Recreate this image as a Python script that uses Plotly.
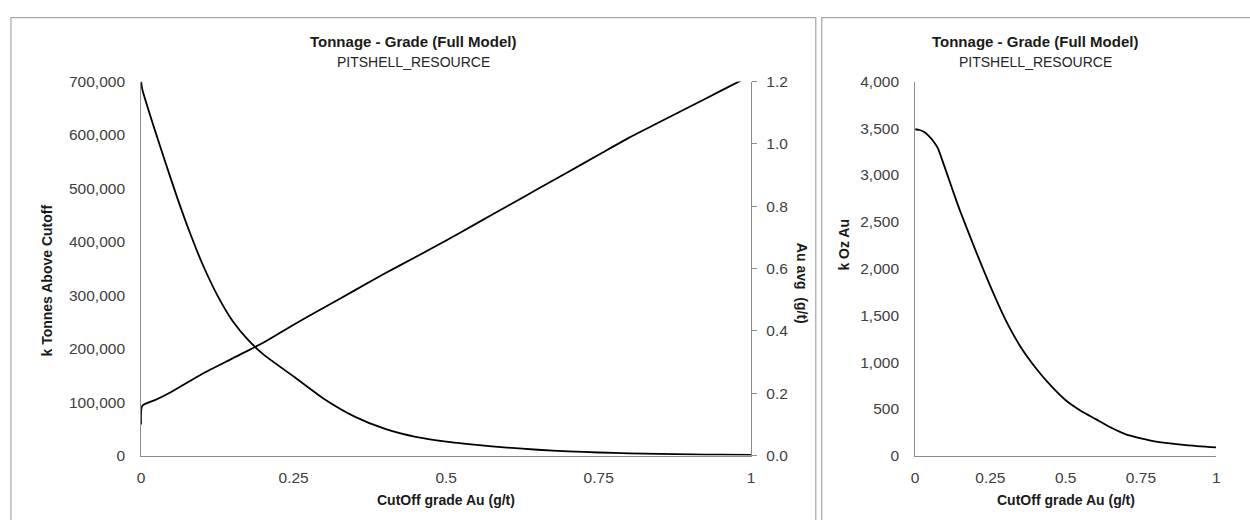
import plotly.graph_objects as go

# ---------------- data ----------------
cutoff_tonnes = [0.0, 0.002, 0.02, 0.04, 0.06, 0.08, 0.1, 0.125, 0.15, 0.175, 0.2,
                 0.25, 0.3, 0.35, 0.4, 0.45, 0.5, 0.55, 0.6, 0.65, 0.7, 0.75,
                 0.8, 0.85, 0.9, 0.95, 1.0]
k_tonnes = [700000, 685000, 618000, 548000, 480000, 417000, 360000, 300000, 252000,
            217000, 190000, 148000, 106000, 73000, 50000, 35000, 26000, 20000,
            15000, 11000, 8000, 5800, 4200, 3100, 2300, 1700, 1200]

cutoff_grade = [0.0, 0.002, 0.025, 0.05, 0.1, 0.15, 0.2, 0.25, 0.3, 0.35, 0.4,
                0.45, 0.5, 0.55, 0.6, 0.65, 0.7, 0.75, 0.8, 0.85, 0.9, 0.95, 1.0]
au_avg = [0.10, 0.16, 0.18, 0.205, 0.262, 0.312, 0.362, 0.42, 0.475, 0.53, 0.585,
          0.637, 0.69, 0.745, 0.80, 0.855, 0.91, 0.965, 1.02, 1.07, 1.12, 1.17, 1.22]

cutoff_oz = [0.0, 0.015, 0.03, 0.045, 0.06, 0.075, 0.09, 0.11, 0.131, 0.15, 0.2, 0.25,
             0.3, 0.35, 0.406, 0.45, 0.5, 0.55, 0.6, 0.65, 0.7, 0.75, 0.8, 0.9, 1.0]
k_oz = [3490, 3482, 3460, 3420, 3365, 3290, 3160, 2975, 2780, 2610, 2200, 1810,
        1455, 1165, 915, 750, 592, 480, 390, 300, 228, 185, 150, 112, 87]

x_ticks = [0, 0.25, 0.5, 0.75, 1]
x_ticktext = ["0", "0.25", "0.5", "0.75", "1"]

title_text = "Tonnage - Grade (Full Model)"
subtitle_text = "PITSHELL_RESOURCE"

# ---------------- layout helpers ----------------
W, H = 1250, 520


def px(x):
    return x / W


def py(y):
    return 1 - y / H


AXIS_COL = "#8c8c8c"
TICK_FONT = dict(family="Liberation Sans, Arial, sans-serif", size=15.5, color="#404040")
BOLD = "Liberation Sans, Arial, sans-serif"
LINE = dict(color="black", width=1.8, shape="spline", smoothing=0.6)

fig = go.Figure()
fig.add_trace(go.Scatter(x=cutoff_tonnes, y=k_tonnes, mode="lines", line=LINE,
                         xaxis="x", yaxis="y", showlegend=False))
fig.add_trace(go.Scatter(x=cutoff_grade, y=au_avg, mode="lines", line=LINE,
                         xaxis="x", yaxis="y2", showlegend=False))
fig.add_trace(go.Scatter(x=cutoff_oz, y=k_oz, mode="lines", line=LINE,
                         xaxis="x2", yaxis="y3", showlegend=False))

ydom = [py(461.7), py(75)]
common_x = dict(range=[0, 1], tickvals=x_ticks, ticktext=x_ticktext, showline=True,
                linecolor=AXIS_COL, linewidth=1, showgrid=False, zeroline=False,
                ticks="", tickfont=TICK_FONT, ticklabelstandoff=8, fixedrange=True)
common_y = dict(showline=True, linecolor=AXIS_COL, linewidth=1, showgrid=False,
                zeroline=False, ticks="", tickfont=TICK_FONT, ticklabelstandoff=12,
                fixedrange=True)

fig.update_layout(
    width=W, height=H, autosize=False,
    margin=dict(l=0, r=0, t=0, b=0),
    paper_bgcolor="white", plot_bgcolor="white",
    xaxis=dict(domain=[px(138), px(752)], anchor="y", **common_x),
    yaxis=dict(domain=ydom, anchor="x", range=[0, 700000], dtick=100000,
               tickformat=",", **common_y),
    yaxis2=dict(overlaying="y", side="right", anchor="x", range=[0, 1.2], dtick=0.2,
                tickformat=".1f", showline=True, linecolor=AXIS_COL, linewidth=1,
                showgrid=False, zeroline=False, ticks="outside", ticklen=5,
                tickcolor=AXIS_COL, tickfont=TICK_FONT, ticklabelstandoff=6,
                fixedrange=True),
    xaxis2=dict(domain=[px(917), px(1220)], anchor="y3", **common_x),
    yaxis3=dict(domain=ydom, anchor="x2", range=[0, 4000], dtick=500,
                tickformat=",", **common_y),
)

shapes = [
    dict(type="rect", xref="paper", yref="paper", x0=px(7), x1=px(817),
         y0=py(560), y1=py(9), line=dict(color="#a6a6a6", width=1.2)),
    dict(type="rect", xref="paper", yref="paper", x0=px(823), x1=px(1290),
         y0=py(560), y1=py(9), line=dict(color="#a6a6a6", width=1.2)),
]
fig.update_layout(shapes=shapes)

ann = []
for cx in (412, 1038):
    ann.append(dict(x=px(cx), y=py(34), xref="paper", yref="paper", text=title_text,
                    showarrow=False, xanchor="center", yanchor="middle",
                    font=dict(family=BOLD, size=15, color="#1a1a1a", weight="bold")))
    ann.append(dict(x=px(cx), y=py(55), xref="paper", yref="paper", text=subtitle_text,
                    showarrow=False, xanchor="center", yanchor="middle",
                    font=dict(family=BOLD, size=14, color="#262626")))
for cx in (445, 1068.5):
    ann.append(dict(x=px(cx), y=py(508), xref="paper", yref="paper",
                    text="CutOff grade Au (g/t)", showarrow=False, xanchor="center",
                    yanchor="middle",
                    font=dict(family=BOLD, size=14, color="#1a1a1a", weight="bold")))
ann.append(dict(x=px(43), y=py(281), xref="paper", yref="paper",
                text="k Tonnes Above Cutoff", showarrow=False, textangle=-90,
                xanchor="center", yanchor="middle",
                font=dict(family=BOLD, size=14, color="#1a1a1a", weight="bold")))
ann.append(dict(x=px(803), y=py(284), xref="paper", yref="paper",
                text="Au avg  (g/t)", showarrow=False, textangle=90,
                xanchor="center", yanchor="middle",
                font=dict(family=BOLD, size=14, color="#1a1a1a", weight="bold")))
ann.append(dict(x=px(845), y=py(244), xref="paper", yref="paper",
                text="k Oz Au", showarrow=False, textangle=-90,
                xanchor="center", yanchor="middle",
                font=dict(family=BOLD, size=14, color="#1a1a1a", weight="bold")))
fig.update_layout(annotations=ann)

fig.write_html("out.html", config=dict(displayModeBar=False))
